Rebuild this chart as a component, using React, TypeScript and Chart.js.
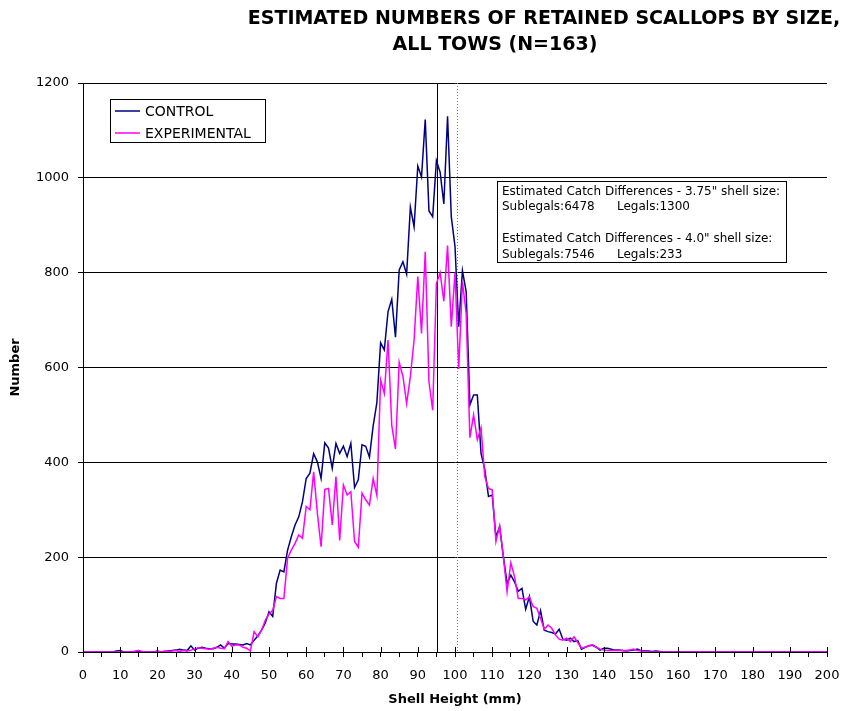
import React, { useEffect, useRef } from 'react';
import { Chart, registerables } from 'chart.js';

Chart.register(...registerables);

const FONT = '"DejaVu Sans", Verdana, sans-serif';

const titleLines = ['ESTIMATED NUMBERS OF RETAINED SCALLOPS BY SIZE,', 'ALL TOWS (N=163)'];
const xAxisTitle = 'Shell Height (mm)';
const yAxisTitle = 'Number';
const seriesNames = ['CONTROL', 'EXPERIMENTAL'];
const seriesColors = ['#000080', '#FF00FF'];

// shell height categories, 1 mm bins from 0 to 200 mm
const shellHeights: number[] = Array.from({ length: 201 }, (_, i) => i);

const controlCounts: number[] = [
  0, 0, 0, 0, 0, 0, 0, 0, 0, 2,
  3, 0, 0, 0, 0, 1, 0, 0, 0, 0,
  2, 0, 1, 2, 3, 4, 6, 4, 3, 13,
  4, 8, 10, 8, 7, 7, 10, 15, 8, 18,
  17, 17, 16, 15, 18, 15, 25, 34, 46, 61,
  85, 75, 145, 173, 169, 215, 243, 268, 285, 317,
  366, 377, 418, 401, 366, 441, 430, 387, 440, 419,
  434, 412, 440, 347, 363, 437, 434, 411, 477, 526,
  652, 637, 718, 744, 664, 806, 823, 797, 938, 897,
  1025, 1002, 1123, 930, 918, 1036, 1012, 945, 1130, 918,
  855, 686, 804, 760, 521, 542, 542, 419, 385, 328,
  331, 243, 264, 201, 145, 162, 148, 128, 134, 90,
  117, 65, 57, 87, 46, 43, 41, 38, 48, 27,
  25, 29, 22, 24, 6, 10, 13, 14, 10, 4,
  8, 8, 6, 4, 4, 3, 2, 3, 4, 6,
  3, 2, 2, 1, 2, 1, 0, 0, 0, 0,
  0, 0, 0, 0, 0, 0, 0, 0, 0, 0,
  0, 0, 0, 0, 0, 0, 0, 0, 0, 0,
  0, 0, 0, 0, 0, 0, 0, 0, 0, 0,
  0, 0, 0, 0, 0, 0, 0, 0, 0, 0,
  0,
];

const experimentalCounts: number[] = [
  0, 0, 0, 0, 0, 0, 0, 0, 0, 0,
  0, 0, 0, 0, 2, 3, 1, 0, 0, 0,
  1, 0, 2, 1, 2, 3, 1, 3, 2, 4,
  6, 9, 8, 7, 6, 8, 10, 8, 7, 22,
  12, 15, 15, 10, 8, 2, 43, 32, 46, 67,
  80, 88, 117, 113, 113, 198, 215, 229, 247, 240,
  307, 300, 380, 293, 222, 343, 345, 268, 370, 235,
  352, 331, 338, 233, 221, 335, 321, 310, 366, 330,
  574, 545, 658, 478, 428, 611, 581, 524, 581, 658,
  792, 672, 844, 570, 510, 777, 800, 740, 857, 686,
  800, 597, 781, 714, 452, 500, 448, 473, 370, 345,
  342, 233, 266, 201, 127, 188, 159, 113, 113, 110,
  116, 96, 92, 71, 48, 57, 50, 36, 27, 25,
  29, 22, 32, 20, 8, 10, 13, 15, 10, 6,
  4, 3, 3, 3, 3, 3, 3, 4, 6, 3,
  2, 1, 0, 0, 0, 0, 0, 0, 0, 0,
  0, 0, 0, 0, 0, 0, 0, 0, 0, 0,
  0, 0, 0, 0, 0, 0, 0, 0, 0, 0,
  0, 0, 0, 0, 0, 0, 0, 0, 0, 0,
  0, 0, 0, 0, 0, 0, 0, 0, 0, 0,
  0,
];

// reference lines (mm): 3.75" and 4.0" shell size
const legalSizeSolid = 95.25;
const legalSizeDotted = 100.6;

const noteLines: string[][] = [
  ['Estimated Catch Differences - 3.75" shell size:'],
  ['Sublegals:6478', 'Legals:1300'],
  [],
  ['Estimated Catch Differences - 4.0" shell size:'],
  ['Sublegals:7546', 'Legals:233'],
];

const xMin = 0;
const xMax = 200;
const xStep = 5;
const xLabelEvery = 10;
const yMin = 0;
const yMax = 1200;
const yStep = 200;

const decorPlugin = {
  id: 'decor',
  beforeDatasetsDraw(chart: any) {
    const { ctx, chartArea, scales } = chart;
    const x = scales.x;
    ctx.save();
    let px = Math.round(x.getPixelForValue(legalSizeSolid)) + 0.5;
    ctx.strokeStyle = '#000000';
    ctx.lineWidth = 1;
    ctx.beginPath();
    ctx.moveTo(px, chartArea.top);
    ctx.lineTo(px, chartArea.bottom);
    ctx.stroke();
    px = Math.round(x.getPixelForValue(legalSizeDotted)) + 0.5;
    ctx.strokeStyle = '#808080';
    ctx.setLineDash([1, 2]);
    ctx.beginPath();
    ctx.moveTo(px, chartArea.top);
    ctx.lineTo(px, chartArea.bottom);
    ctx.stroke();
    ctx.restore();
  },
  afterDraw(chart: any) {
    const { ctx, chartArea, scales } = chart;
    ctx.save();
    ctx.strokeStyle = '#000000';
    ctx.lineWidth = 1;
    for (let v = xMin; v <= xMax; v += xLabelEvery) {
      const px = Math.round(scales.x.getPixelForValue(v)) + 0.5;
      ctx.beginPath();
      ctx.moveTo(px, chartArea.bottom);
      ctx.lineTo(px, chartArea.bottom - 5);
      ctx.stroke();
    }

    ctx.fillStyle = '#000000';
    ctx.font = `bold 19px ${FONT}`;
    ctx.textAlign = 'center';
    ctx.textBaseline = 'middle';
    ctx.fillText(titleLines[0], 544, 19);
    ctx.fillText(titleLines[1], 495, 45);

    ctx.font = `bold 13px ${FONT}`;
    ctx.fillText(xAxisTitle, (chartArea.left + chartArea.right) / 2, 700);
    ctx.save();
    ctx.translate(16, (chartArea.top + chartArea.bottom) / 2);
    ctx.rotate(-Math.PI / 2);
    ctx.fillText(yAxisTitle, 0, 0);
    ctx.restore();

    const lx = 110.5, ly = 99.5, lw = 155, lh = 43;
    ctx.fillStyle = '#ffffff';
    ctx.fillRect(lx, ly, lw, lh);
    ctx.strokeStyle = '#000000';
    ctx.strokeRect(lx, ly, lw, lh);
    const rows = [111, 133];
    ctx.font = `14px ${FONT}`;
    ctx.textAlign = 'left';
    for (let i = 0; i < seriesNames.length; i++) {
      ctx.strokeStyle = seriesColors[i];
      ctx.lineWidth = 1.5;
      ctx.beginPath();
      ctx.moveTo(115, rows[i]);
      ctx.lineTo(140, rows[i]);
      ctx.stroke();
      ctx.fillStyle = '#000000';
      ctx.fillText(seriesNames[i], 145, rows[i] + 1);
    }

    const nx = 497.5, ny = 181.5, nw = 289, nh = 81;
    ctx.fillStyle = '#ffffff';
    ctx.fillRect(nx, ny, nw, nh);
    ctx.strokeStyle = '#000000';
    ctx.lineWidth = 1;
    ctx.strokeRect(nx, ny, nw, nh);
    ctx.fillStyle = '#000000';
    ctx.font = `12px ${FONT}`;
    const lineYs = [191.5, 207, 222.5, 238.5, 255];
    const colXs = [502, 617];
    noteLines.forEach((parts, i) => {
      parts.forEach((t, j) => ctx.fillText(t, colXs[j], lineYs[i]));
    });
    ctx.restore();
  },
};

export default function App() {
  const canvasRef = useRef<HTMLCanvasElement | null>(null);

  useEffect(() => {
    const canvas = canvasRef.current;
    if (!canvas) return;
    const chart = new Chart(canvas, {
      type: 'line',
      data: {
        datasets: [
          {
            label: seriesNames[0],
            data: shellHeights.map((x, i) => ({ x, y: controlCounts[i] })),
            borderColor: seriesColors[0],
            borderWidth: 1.5,
            pointRadius: 0,
            tension: 0,
            fill: false,
            order: 2,
          },
          {
            label: seriesNames[1],
            data: shellHeights.map((x, i) => ({ x, y: experimentalCounts[i] })),
            borderColor: seriesColors[1],
            borderWidth: 1.5,
            pointRadius: 0,
            tension: 0,
            fill: false,
            order: 1,
          },
        ],
      },
      options: {
        responsive: false,
        animation: false,
        devicePixelRatio: 1,
        layout: { padding: { top: 83, right: 16, left: 0, bottom: 0 } },
        plugins: {
          legend: { display: false },
          title: { display: false },
          tooltip: { enabled: false },
        },
        scales: {
          x: {
            type: 'linear',
            min: xMin,
            max: xMax,
            afterFit: (s: any) => {
              s.height = 59;
              s.paddingLeft = 0;
              s.paddingRight = 0;
            },
            ticks: {
              stepSize: xStep,
              autoSkip: false,
              maxRotation: 0,
              padding: 11,
              color: '#000000',
              font: { family: FONT, size: 13 },
              callback: (v: any) => (Number(v) % xLabelEvery === 0 ? String(v) : ''),
            },
            grid: {
              drawOnChartArea: false,
              drawTicks: true,
              tickLength: 5,
              color: '#000000',
              lineWidth: 1,
            },
            border: { display: true, color: '#000000', width: 1 },
          },
          y: {
            type: 'linear',
            min: yMin,
            max: yMax,
            afterFit: (s: any) => {
              s.width = 83;
              s.paddingTop = 0;
              s.paddingBottom = 0;
            },
            ticks: {
              stepSize: yStep,
              padding: 9,
              color: '#000000',
              font: { family: FONT, size: 13 },
              callback: (v: any) => String(v),
            },
            grid: {
              color: '#000000',
              lineWidth: 1,
              tickLength: 5,
            },
            border: { display: true, color: '#000000', width: 1 },
          },
        },
      },
      plugins: [decorPlugin],
    });
    return () => chart.destroy();
  }, []);

  return (
    <div style={{ position: 'absolute', left: 0, top: 0, width: 843, height: 711, background: '#ffffff' }}>
      <canvas ref={canvasRef} width={843} height={711} style={{ display: 'block', width: 843, height: 711 }} />
    </div>
  );
}
